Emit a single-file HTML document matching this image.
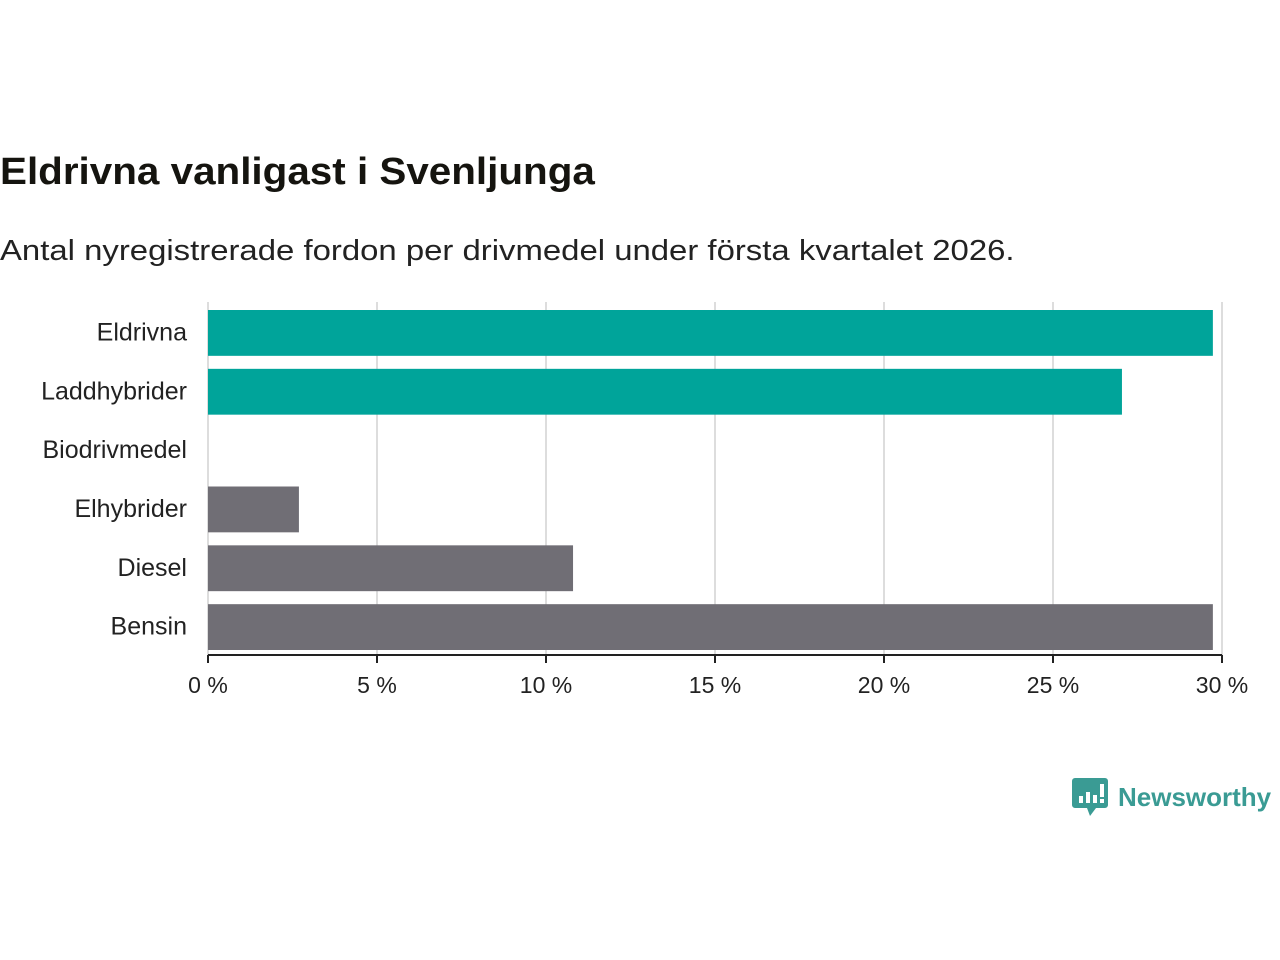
<!DOCTYPE html>
<html><head><meta charset="utf-8"><style>
body{margin:0;width:1280px;height:960px;background:#fff;font-family:"Liberation Sans",sans-serif;overflow:hidden;position:relative}
#title{position:absolute;left:0;top:151px;font-size:38px;font-weight:bold;color:#15140f;margin:0;transform:scaleX(1.063);transform-origin:left top;white-space:nowrap}
#sub{position:absolute;left:0;top:235px;font-size:29px;color:#222;margin:0;transform:scaleX(1.134);transform-origin:left top;white-space:nowrap}
#logo{position:absolute;left:1072px;top:776px;display:flex;align-items:center}
</style></head><body>
<h1 id="title">Eldrivna vanligast i Svenljunga</h1>
<p id="sub">Antal nyregistrerade fordon per drivmedel under första kvartalet 2026.</p>
<svg id="chart" width="1280" height="720" style="position:absolute;left:0;top:0"></svg>
<div id="logo">
<svg width="36" height="42"><path d="M3 2h30a3 3 0 0 1 3 3v24a3 3 0 0 1-3 3H24l-6 8l-3-8H3a3 3 0 0 1-3-3V5a3 3 0 0 1 3-3z" fill="#3a9b94"/><rect x="7" y="20" width="4" height="7" fill="#fff"/><rect x="14" y="16" width="4" height="11" fill="#fff"/><rect x="21" y="19" width="4" height="8" fill="#fff"/><rect x="28" y="8" width="4" height="13" fill="#fff"/><rect x="28" y="23" width="4" height="4" fill="#fff"/></svg>
<span style="font-size:26px;color:#3a9b94;margin-left:10px;font-weight:bold">Newsworthy</span>
</div>
<script>
const categories=["Eldrivna","Laddhybrider","Biodrivmedel","Elhybrider","Diesel","Bensin"];
const values=[29.73,27.04,0,2.69,10.80,29.73];
const colors=["#00a49a","#00a49a","#00a49a","#706e75","#706e75","#706e75"];
const ticks=[0,5,10,15,20,25,30];
const tickLabels=["0 %","5 %","10 %","15 %","20 %","25 %","30 %"];
const svg=document.getElementById('chart');
const NS="http://www.w3.org/2000/svg";
const x0=208,x1=1222,yTop=302,yBottom=655;
const xs=v=>x0+(v-0)/(30-0)*(x1-x0);
const band=(yBottom-yTop)/categories.length;
const ys=i=>yTop+band*i;
function mk(t,a){const e=document.createElementNS(NS,t);for(const k in a)e.setAttribute(k,a[k]);svg.appendChild(e);return e;}
ticks.forEach((t,i)=>{
 const g=mk('line',{x1:xs(t),x2:xs(t),y1:yTop,y2:yBottom,stroke:'#ddd','stroke-width':2});
 
 
 const tk=mk('line',{x1:xs(t),x2:xs(t),y1:yBottom,y2:yBottom+8,stroke:'#222','stroke-width':2});
 
 
 const l=mk('text',{x:xs(t),y:yBottom+38,'text-anchor':'middle','font-size':23,fill:'#222','font-family':'Liberation Sans, sans-serif'});
 l.textContent=tickLabels[i];
 
 
});
categories.forEach((c,i)=>{
 const pad=6;
 if(values[i]>0){
 const r=mk('rect',{x:xs(0),y:ys(i)+pad+2,width:xs(values[i])-xs(0),height:band-2*pad-1,fill:colors[i]});
 
 
 }
 const l=mk('text',{x:187,y:ys(i)+band/2+9,'text-anchor':'end','font-size':25,fill:'#222','font-family':'Liberation Sans, sans-serif'});
 l.textContent=c;
 
 
});
const ax=mk('line',{x1:x0,x2:x1,y1:yBottom,y2:yBottom,stroke:'#222','stroke-width':2});


</script>
</body></html>
